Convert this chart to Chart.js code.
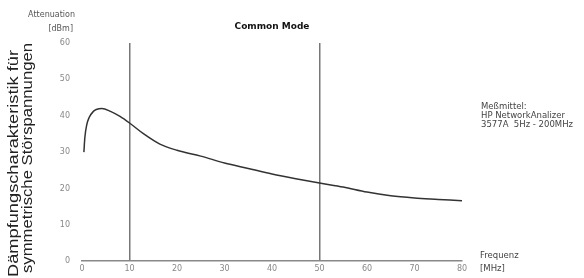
<!DOCTYPE html>
<html>
<head>
<meta charset="utf-8">
<script src="https://cdn.jsdelivr.net/npm/chart.js@4/dist/chart.umd.min.js"></script>
<style>
  html, body { margin: 0; padding: 0; background: #fff; }
  #wrap { width: 584px; height: 278px; }
</style>
</head>
<body>
<div id="wrap"><canvas id="attChart" width="584" height="278"></canvas></div>
<script>
// Daten
const freqMHz = [0.4, 0.6, 1, 1.5, 2.4, 3, 4.2, 6, 8, 10, 13, 16.4, 20, 25, 30, 35, 40, 45, 50, 55, 60, 65, 70, 75, 80];
const attDb   = [30, 34, 37.5, 39.5, 41.2, 41.7, 42, 41.2, 39.8, 38, 35, 32.2, 30.5, 28.9, 27, 25.5, 24, 22.7, 21.5, 20.4, 19, 18, 17.4, 17, 16.6];
const xTicks = [0, 10, 20, 30, 40, 50, 60, 70, 80];
const yTicks = [0, 10, 20, 30, 40, 50, 60];
const markerLines = [10, 50];

const FONT = "'Liberation Sans', Arial, sans-serif";
const SMALL = "'DejaVu Sans', Verdana, sans-serif";

// Beschriftungen rund um das Diagramm
const labelsPlugin = {
  id: "labels",
  afterDraw(chart) {
    const c = chart.ctx;
    const a = chart.chartArea;
    c.save();
    c.textBaseline = "middle";

    c.fillStyle = "#111";
    c.font = "bold 9px " + SMALL;
    c.textAlign = "center";
    c.fillText("Common Mode", (a.left + a.right) / 2, 27);

    c.fillStyle = "#555";
    c.font = "8px " + SMALL;
    c.textAlign = "right";
    c.fillText("Attenuation", 75, 15);
    c.fillText("[dBm]", 73, 29);

    c.fillStyle = "#444";
    c.font = "8.5px " + SMALL;
    c.textAlign = "left";
    c.fillText("Meßmittel:", 481, 107);
    c.fillText("HP NetworkAnalizer", 481, 116);
    c.fillText("3577A  5Hz - 200MHz", 481, 125);
    c.fillText("Frequenz", 480, 256);
    c.fillText("[MHz]", 480, 269);

    // gedrehte Achsenbeschriftung links
    c.fillStyle = "#222";
    c.font = "14px " + FONT;
    c.textBaseline = "alphabetic";
    const rot = [
      { t: "Dämpfungscharakteristik für", x: 18, y0: 277, y1: 50 },
      { t: "symmetrische Störspannungen", x: 32, y0: 273, y1: 43 }
    ];
    rot.forEach(r => {
      c.save();
      c.translate(r.x, r.y0);
      c.rotate(-Math.PI / 2);
      const w = c.measureText(r.t).width;
      c.scale((r.y0 - r.y1) / w, 1);
      c.fillText(r.t, 0, 0);
      c.restore();
    });
    c.restore();
  }
};

new Chart(document.getElementById("attChart"), {
  type: "line",
  data: {
    datasets: [{
      data: freqMHz.map((f, i) => ({ x: f, y: attDb[i] })),
      borderColor: "#333",
      borderWidth: 1.5,
      pointRadius: 0,
      cubicInterpolationMode: "monotone",
      fill: false
    }]
  },
  options: {
    responsive: false,
    animation: false,
    layout: { padding: { left: 52, right: 122, top: 43, bottom: 0 } },
    plugins: { legend: { display: false }, tooltip: { enabled: false } },
    scales: {
      x: {
        type: "linear",
        min: 0,
        max: 80,
        afterFit: s => { s.height = 15; },
        afterBuildTicks: s => { s.ticks = xTicks.map(v => ({ value: v })); },
        border: { display: true, color: "#888", width: 1.5 },
        grid: {
          drawTicks: false,
          color: ctx => markerLines.includes(ctx.tick && ctx.tick.value) ? "#777" : "rgba(0,0,0,0)",
          lineWidth: 1.5
        },
        ticks: { padding: 3, color: "#888", font: { family: SMALL, size: 8 } }
      },
      y: {
        min: 0,
        max: 60,
        afterFit: s => { s.width = 30; },
        afterBuildTicks: s => { s.ticks = yTicks.map(v => ({ value: v })); },
        border: { display: false },
        grid: { display: false, drawTicks: false },
        ticks: { padding: 12, color: "#888", font: { family: SMALL, size: 8 } }
      }
    }
  },
  plugins: [labelsPlugin]
});
</script>
</body>
</html>
